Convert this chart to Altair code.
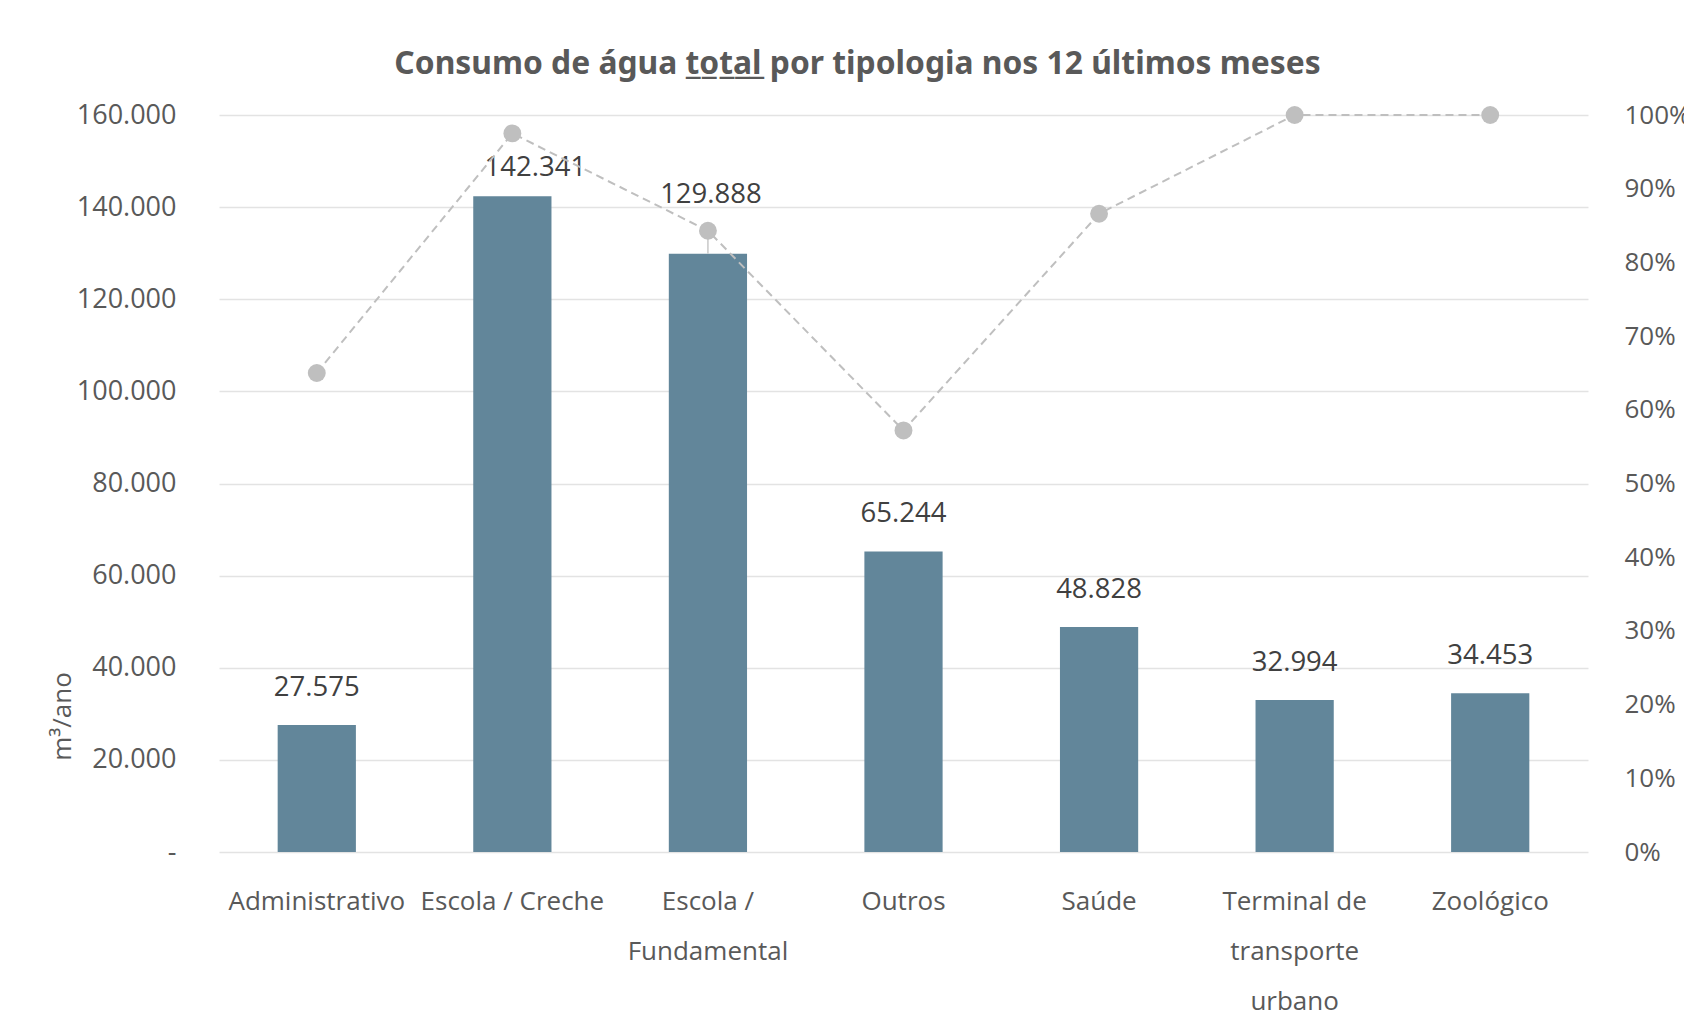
import altair as alt
import pandas as pd

categories = [
    "Administrativo",
    "Escola / Creche",
    "Escola /\nFundamental",
    "Outros",
    "Saúde",
    "Terminal de\ntransporte\nurbano",
    "Zoológico",
]
consumo = [27575, 142341, 129888, 65244, 48828, 32994, 34453]
percentual = [0.65, 0.975, 0.843, 0.572, 0.866, 1.0, 1.0]

y_ticks = [0, 20000, 40000, 60000, 80000, 100000, 120000, 140000, 160000]
pct_ticks = [0, 0.1, 0.2, 0.3, 0.4, 0.5, 0.6, 0.7, 0.8, 0.9, 1.0]

df = pd.DataFrame({"cat": categories, "valor": consumo, "pct": percentual})

FONT = "Open Sans"
GRAY = "#595959"

x_enc = alt.X(
    "cat:N",
    sort=categories,
    title=None,
    scale=alt.Scale(paddingInner=0.6, paddingOuter=0.3),
    axis=alt.Axis(
        labelExpr="split(datum.label, '\\n')",
        labelAngle=0,
        labelFont=FONT,
        labelFontSize=26,
        labelColor=GRAY,
        labelLineHeight=50,
        labelBaseline="top",
        labelPadding=36,
        ticks=False,
        tickSize=0,
        domain=False,
        grid=False,
        labelLimit=400,
    ),
)
x_plain = alt.X("cat:N", sort=categories)

y_left = alt.Y(
    "valor:Q",
    scale=alt.Scale(domain=[0, 160000], nice=False),
    axis=alt.Axis(
        values=y_ticks,
        labelExpr="datum.value == 0 ? '-' : replace(format(datum.value, ','), ',', '.')",
        labelFont=FONT,
        labelFontSize=27,
        labelColor=GRAY,
        labelPadding=43,
        ticks=False,
        tickSize=0,
        domain=False,
        grid=True,
        gridColor="#E3E3E3",
        gridWidth=1.5,
        title="m³/ano",
        titleFont=FONT,
        titleFontSize=26,
        titleFontWeight="normal",
        titleColor=GRAY,
        titleAngle=-90,
        titleX=-157,
        titleY=601,
        titleAlign="center",
        titleBaseline="middle",
    ),
)
y_left_plain = alt.Y("valor:Q")

base = alt.Chart(df)

bars = base.mark_bar(color="#62869A").encode(x=x_enc, y=y_left)

label_df_calc = base.transform_calculate(
    lbl="replace(format(datum.valor, ','), ',', '.')"
)

LBL_SIZE = 27.5
labels_main = label_df_calc.transform_filter(
    "datum.cat != 'Escola / Creche' && datum.cat != 'Escola /\\nFundamental'"
).mark_text(font=FONT, fontSize=LBL_SIZE, color="#404040", dy=-37, baseline="middle").encode(
    x=x_plain, y=y_left_plain, text="lbl:N"
)
labels_creche = label_df_calc.transform_filter(
    "datum.cat == 'Escola / Creche'"
).mark_text(font=FONT, fontSize=LBL_SIZE, color="#404040", dy=-28, dx=23, baseline="middle").encode(
    x=x_plain, y=y_left_plain, text="lbl:N"
)
labels_fund = label_df_calc.transform_filter(
    "datum.cat == 'Escola /\\nFundamental'"
).mark_text(font=FONT, fontSize=LBL_SIZE, color="#404040", dy=-59, dx=3, baseline="middle").encode(
    x=x_plain, y=y_left_plain, text="lbl:N"
)

left = alt.layer(bars, labels_main, labels_creche, labels_fund)

y_right = alt.Y(
    "pct:Q",
    scale=alt.Scale(domain=[0, 1], nice=False),
    axis=alt.Axis(
        orient="right",
        values=pct_ticks,
        format=".0%",
        labelFont=FONT,
        labelFontSize=26,
        labelColor=GRAY,
        labelPadding=36,
        ticks=False,
        tickSize=0,
        domain=False,
        grid=False,
        title=None,
    ),
)
y_right_plain = alt.Y("pct:Q")

line = base.mark_line(color="#BFBFBF", strokeWidth=2, strokeDash=[8, 5]).encode(
    x=x_plain, y=y_right
)
leader = base.transform_filter("datum.cat == 'Escola /\\nFundamental'").transform_calculate(
    bar_frac="datum.valor / 160000"
).mark_rule(color="#C8C8C8", strokeWidth=1.5).encode(
    x=x_plain, y=y_right_plain, y2="bar_frac:Q"
)
points = base.mark_point(filled=True, color="#BFBFBF", size=320, opacity=1).encode(
    x=x_plain, y=y_right_plain
)

right = alt.layer(line, leader, points)

chart = (
    alt.layer(left, right)
    .resolve_scale(y="independent")
    .properties(
        width=1369,
        height=737,
        background="white",
        autosize=alt.AutoSizeParams(type="none"),
        padding={"left": 211, "top": 107, "right": 96, "bottom": 165},
        title=alt.TitleParams(
            text="Consumo de água t\u0332o\u0332t\u0332a\u0332l\u0332 por tipologia nos 12 últimos meses",
            font="Noto Sans",
            fontSize=31.8,
            fontWeight="bold",
            color=GRAY,
            anchor="middle",
            dx=-46,
            offset=20,
        ),
    )
    .configure_view(strokeWidth=0, stroke="transparent")
    .configure_axis(domain=False)
)

chart.save("out.html", embed_options={"renderer": "svg", "actions": False})
